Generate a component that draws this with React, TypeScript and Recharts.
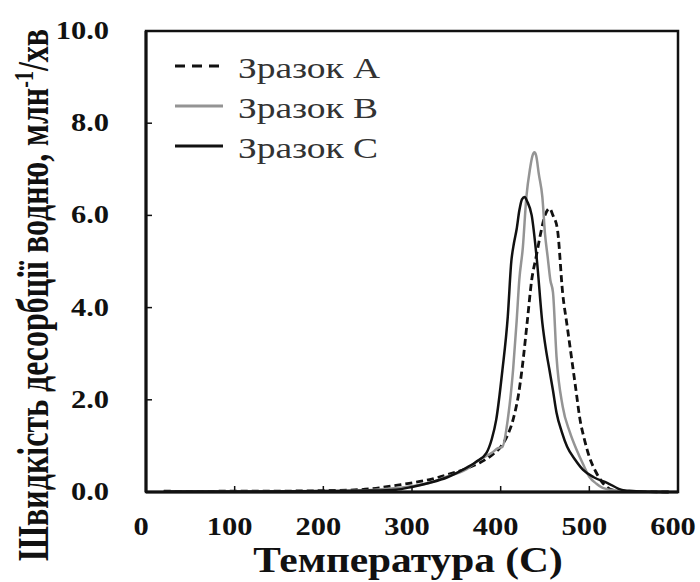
import React from "react";
import { LineChart, Line, XAxis, YAxis, Legend, ReferenceArea } from "recharts";

// Зразок A (штрихова крива)
const tempA = [20, 60, 100, 150, 200, 240, 263, 280, 301, 320, 339, 360, 376, 390, 400, 407, 414, 420, 424, 430, 435, 440, 445, 450, 455, 459, 464, 470, 475, 480, 485, 489, 495, 500, 507, 515, 527, 540, 560, 590];
const rateA = [0.02, 0.01, 0.02, 0.02, 0.03, 0.05, 0.09, 0.14, 0.2, 0.27, 0.37, 0.5, 0.63, 0.8, 0.98, 1.2, 1.57, 2.1, 2.65, 3.7, 4.6, 5.1, 5.6, 6.0, 6.15, 6.0, 5.7, 4.3, 3.6, 2.9, 2.2, 1.63, 1.1, 0.76, 0.45, 0.2, 0.04, 0.02, 0.01, 0];

// Зразок B (сіра крива)
const tempB = [20, 100, 200, 250, 280, 301, 320, 339, 360, 376, 390, 397, 402, 408, 414, 418, 421, 425, 429, 433, 436, 438, 440, 443, 447, 450, 453, 456, 459, 463, 470, 478, 486, 493, 500, 508, 515, 530, 560, 590];
const rateB = [0.01, 0.01, 0.02, 0.04, 0.08, 0.13, 0.2, 0.33, 0.48, 0.7, 0.85, 0.95, 0.98, 1.57, 2.65, 3.7, 4.6, 5.3, 6.4, 7.0, 7.3, 7.37, 7.3, 6.9, 6.4, 5.6, 5.1, 4.6, 4.33, 2.93, 1.85, 1.3, 0.9, 0.6, 0.33, 0.18, 0.09, 0.03, 0.01, 0];

// Зразок C (суцільна чорна крива)
const tempC = [20, 100, 200, 250, 282, 300, 320, 340, 357, 372, 384, 390, 395, 402, 408, 412, 415, 418, 421, 424, 427, 430, 435, 441, 447, 451, 455, 459, 463, 469, 475, 484, 493, 505, 520, 538, 560, 590];
const rateC = [0.01, 0.01, 0.02, 0.03, 0.05, 0.11, 0.2, 0.32, 0.48, 0.65, 0.85, 1.15, 1.57, 2.65, 3.8, 5.0, 5.4, 5.7, 6.1, 6.35, 6.4, 6.3, 6.0, 5.0, 3.67, 3.1, 2.65, 2.2, 1.72, 1.3, 0.98, 0.7, 0.48, 0.32, 0.2, 0.04, 0.01, 0];

const xTicks = [0, 100, 200, 300, 400, 500, 600];
const yTicks = [0, 2, 4, 6, 8, 10];
const seriesNames = ["Зразок A", "Зразок B", "Зразок C"];

const FONT = '"Liberation Serif", "Times New Roman", serif';
const INK = "#111";

const SERIES = [
  { name: seriesNames[0], data: tempA.map((t, i) => ({ t, v: rateA[i] })), color: INK, dash: "7 4" },
  { name: seriesNames[1], data: tempB.map((t, i) => ({ t, v: rateB[i] })), color: "#949494", dash: undefined },
  { name: seriesNames[2], data: tempC.map((t, i) => ({ t, v: rateC[i] })), color: INK, dash: undefined },
];

const XTick = (props: any) => {
  const { x, y, payload } = props;
  return (
    <text
      transform={`translate(${x - 5},${y}) scale(1.22,1)`}
      textAnchor="middle"
      fontFamily={FONT}
      fontWeight="bold"
      fontSize={25}
      fill={INK}
    >
      {payload.value}
    </text>
  );
};

const YTick = (props: any) => {
  const { x, y, payload } = props;
  return (
    <text
      transform={`translate(${x},${y + 8}) scale(1.22,1)`}
      textAnchor="end"
      fontFamily={FONT}
      fontWeight="bold"
      fontSize={25}
      fill={INK}
    >
      {Number(payload.value).toFixed(1)}
    </text>
  );
};

const renderYTitle = () => (
  <text
    transform="translate(48,295) rotate(-90) scale(1,1.4)"
    textAnchor="middle"
    fontFamily={FONT}
    fontWeight="bold"
    fontSize={32}
    fill={INK}
  >
    Швидкість десорбції водню, млн
    <tspan dy={-11} fontSize={20}>-1</tspan>
    <tspan dy={11}>/хв</tspan>
  </text>
);

const renderXTitle = () => (
  <text
    transform="translate(408,572) scale(1.15,1)"
    textAnchor="middle"
    fontFamily={FONT}
    fontWeight="bold"
    fontSize={36}
    fill={INK}
  >
    Температура (С)
  </text>
);

const LegendBox = () => (
  <svg width={250} height={120}>
    {SERIES.map((s, i) => (
      <g key={s.name}>
        <line
          x1={5}
          x2={53}
          y1={16 + i * 40}
          y2={16 + i * 40}
          stroke={s.color}
          strokeWidth={3}
          strokeDasharray={s.dash ? "10 7" : undefined}
        />
        <text
          transform={`translate(68,${28 + i * 40}) scale(1.25,1)`}
          fontFamily={FONT}
          fontSize={30}
          fill="#333"
        >
          {s.name}
        </text>
      </g>
    ))}
  </svg>
);

export default function App() {
  return (
    <div style={{ position: "absolute", left: 0, top: 0, background: "#fff" }}>
      <LineChart width={700} height={582} margin={{ top: 31, right: 22, bottom: 0, left: 0 }}>
        <XAxis
          type="number"
          dataKey="t"
          domain={[0, 600]}
          ticks={xTicks}
          height={90}
          tickSize={-6}
          tickMargin={49}
          tick={<XTick />}
          axisLine={{ stroke: INK, strokeWidth: 3 }}
          tickLine={{ stroke: INK, strokeWidth: 1.5 }}
          label={renderXTitle}
        />
        <YAxis
          type="number"
          domain={[0, 10]}
          ticks={yTicks}
          width={146}
          tickSize={-6}
          tickMargin={43}
          tick={<YTick />}
          axisLine={{ stroke: INK, strokeWidth: 3 }}
          tickLine={{ stroke: INK, strokeWidth: 1.5 }}
          label={renderYTitle}
        />
        <ReferenceArea x1={0} x2={600} y1={0} y2={10} fill="none" stroke={INK} strokeWidth={2.5} ifOverflow="visible" />
        <Legend
          layout="vertical"
          align="center"
          verticalAlign="middle"
          content={() => <LegendBox />}
          wrapperStyle={{ left: 170, top: 50, width: 250 }}
        />
        {SERIES.map((s) => (
          <Line
            key={s.name}
            data={s.data}
            dataKey="v"
            name={s.name}
            type="monotone"
            stroke={s.color}
            strokeWidth={s.dash ? 2.8 : 2.5}
            strokeDasharray={s.dash}
            dot={false}
            isAnimationActive={false}
          />
        ))}
      </LineChart>
    </div>
  );
}
